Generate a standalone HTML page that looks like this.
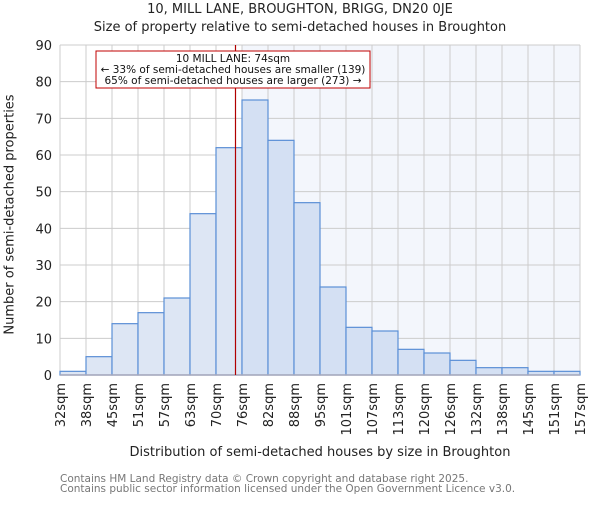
<!DOCTYPE html>
<html><head><meta charset="utf-8"><style>body{margin:0;background:#fff}svg text{font-family:"DejaVu Sans","Liberation Sans",sans-serif}</style></head>
<body>
<svg id="c" width="600" height="500" xmlns="http://www.w3.org/2000/svg"></svg>
<script>
const categories=["32sqm","38sqm","45sqm","51sqm","57sqm","63sqm","70sqm","76sqm","82sqm","88sqm","95sqm","101sqm","107sqm","113sqm","120sqm","126sqm","132sqm","138sqm","145sqm","151sqm","157sqm"];
const counts=[1,5,14,17,21,44,62,75,64,47,24,13,12,7,6,4,2,2,1,1];
const yTicks=[0,10,20,30,40,50,60,70,80,90];
const markerBin=6.75;
const NS="http://www.w3.org/2000/svg",svg=document.getElementById('c');
const L=60,R=580,T=45,B=375,bw=(R-L)/counts.length;
const x=i=>L+i*bw, y=v=>B-(v/90)*(B-T);
function el(t,a,p){const e=document.createElementNS(NS,t);for(const k in a)e.setAttribute(k,a[k]);(p||svg).appendChild(e);return e;}
let e;
e=el('rect',{x:x(Math.ceil(markerBin)),y:T,width:R-x(Math.ceil(markerBin)),height:B-T,fill:'#f3f6fc'});

for(const t of yTicks){e=el('line',{x1:L,x2:R,y1:y(t),y2:y(t),stroke:'#cccccc'});
e=el('text',{x:L-8,y:y(t)+5,'text-anchor':'end','font-size':13,fill:'#222'});e.textContent=t;}
categories.forEach((c,i)=>{e=el('line',{x1:x(i),x2:x(i),y1:T,y2:B,stroke:'#cccccc'});
e=el('text',{transform:`translate(${x(i)+5},${B+8}) rotate(-90)`,'text-anchor':'end','font-size':13,fill:'#222'});e.textContent=c;});
counts.forEach((v,i)=>{e=el('rect',{x:x(i),y:y(v),width:bw,height:B-y(v),fill:i<Math.ceil(markerBin)?'#dde6f4':'#d4e0f3',stroke:'#5b8fd6','stroke-width':1.2});});
e=el('line',{x1:L,x2:R,y1:B,y2:B,stroke:'#aab',"stroke-width":1.5});
e=el('line',{x1:x(markerBin),x2:x(markerBin),y1:T,y2:B,stroke:'#b00000','stroke-width':1.2});
e=el('rect',{x:96,y:51,width:274,height:37,fill:'#fff',stroke:'#c00000'});
[["10 MILL LANE: 74sqm",62],["← 33% of semi-detached houses are smaller (139)",73],["65% of semi-detached houses are larger (273) →",84]].forEach(([s,yy])=>{e=el('text',{x:233,y:yy,'text-anchor':'middle','font-size':10.5,fill:'#111'});e.textContent=s;});
</script>
<div style="position:absolute;left:0;top:0;width:600px;height:500px;pointer-events:none;font-family:'DejaVu Sans','Liberation Sans',sans-serif">
<div style="position:absolute;top:1px;width:600px;text-align:center;font-size:13px;color:#222;line-height:18px">10, MILL LANE, BROUGHTON, BRIGG, DN20 0JE<br>Size of property relative to semi-detached houses in Broughton</div>
<div style="position:absolute;left:60px;width:520px;top:445px;text-align:center;font-size:13px;color:#222">Distribution of semi-detached houses by size in Broughton</div>
<div style="position:absolute;left:-140px;top:207px;width:300px;text-align:center;white-space:nowrap;transform:rotate(-90deg);font-size:13px;color:#222">Number of semi-detached properties</div>
<div style="position:absolute;left:60px;top:474px;font-size:10.5px;line-height:10px;color:#777">Contains HM Land Registry data © Crown copyright and database right 2025.<br>Contains public sector information licensed under the Open Government Licence v3.0.</div>
</div>
</body></html>
